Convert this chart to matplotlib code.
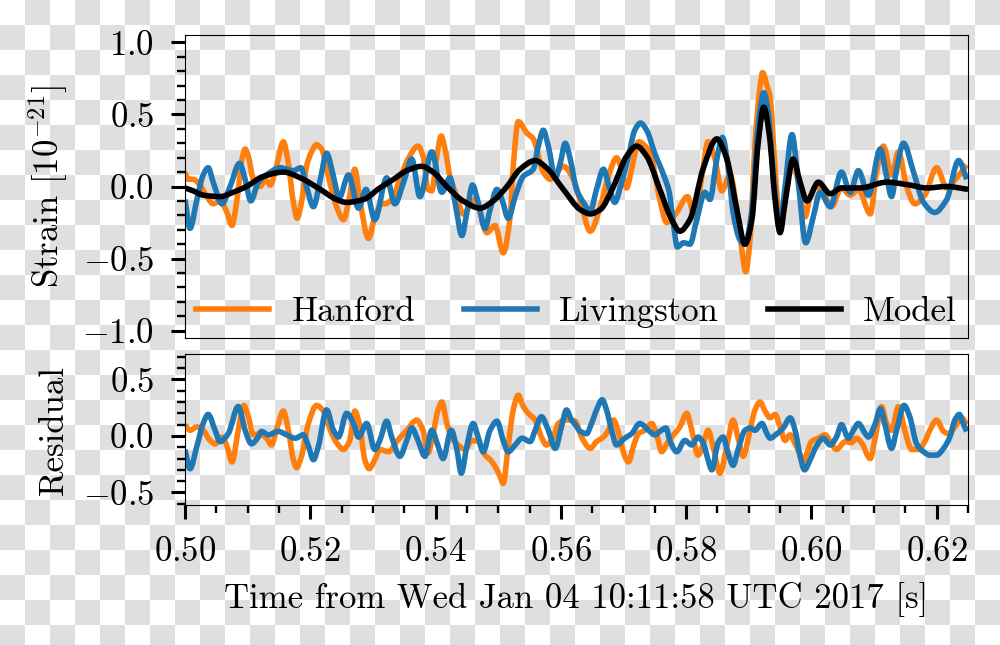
import numpy as np
import matplotlib
matplotlib.use("Agg")
import matplotlib.pyplot as plt
from matplotlib.ticker import MultipleLocator
from matplotlib.path import Path
from matplotlib.patches import PathPatch
from matplotlib.lines import Line2D

plt.rcParams["font.family"] = "serif"
plt.rcParams["font.serif"] = ["cmr10"]
plt.rcParams["mathtext.fontset"] = "cm"
plt.rcParams["axes.formatter.use_mathtext"] = True

# ---------------- data ----------------
t_hanford = [.5000, .5005, .5013, .5024, .5035, .5045, .5056, .5067, .5075, .5083, .5091, .5096, .5101, .5109,
             .5120, .5128, .5136, .5146, .5157, .5165, .5173, .5179, .5186, .5194, .5202, .5210, .5218, .5231,
             .5242, .5253, .5261, .5271, .5279, .5293, .5303, .5314, .5319, .5330, .5343, .5356, .5372, .5380,
             .5388, .5394, .5402, .5409, .5415, .5423, .5434, .5444, .5463, .5482, .5495, .5508, .5519, .5524,
             .5532, .5546, .5556, .5572, .5583, .5604, .5620, .5631, .5647, .5663, .5678, .5689, .5697, .5705,
             .5713, .5724, .5737, .5745, .5758, .5769, .5785, .5802, .5814, .5825, .5835, .5846, .5857, .5870,
             .5881, .5889, .5895, .5902, .5910, .5918, .5922, .5929, .5934, .5942, .5950, .5958, .5969, .5979,
             .5990, .5998, .6008, .6019, .6032, .6048, .6062, .6075, .6094, .6104, .6115, .6128, .6139, .6152,
             .6165, .6181, .6200, .6216, .6232, .6248]
strain_hanford = [0.10, 0.05, 0.05, 0.01, -0.07, -0.12, -0.10, -0.18, -0.27, -0.09, 0.19, 0.26, 0.21, 0.05,
                  0.00, 0.05, 0.01, 0.14, 0.31, 0.16, -0.11, -0.22, -0.11, 0.14, 0.24, 0.29, 0.26, 0.03,
                  -0.14, -0.23, -0.11, 0.12, -0.09, -0.36, -0.21, -0.12, -0.12, -0.09, 0.05, 0.19, 0.28, 0.21,
                  -0.02, -0.03, 0.21, 0.35, 0.26, 0.07, -0.07, -0.19, -0.09, -0.32, -0.27, -0.46, -0.21, 0.14,
                  0.45, 0.37, 0.33, 0.10, 0.05, 0.14, 0.05, -0.10, -0.31, -0.14, 0.10, 0.20, 0.12, -0.01,
                  0.12, 0.31, 0.27, 0.19, -0.09, -0.25, -0.18, -0.07, -0.21, 0.07, 0.31, 0.19, -0.03, 0.08,
                  -0.16, -0.44, -0.59, -0.37, 0.30, 0.69, 0.79, 0.70, 0.62, 0.12, -0.27, -0.09, 0.19, 0.03,
                  -0.21, -0.07, 0.00, -0.04, -0.14, -0.01, -0.06, -0.02, -0.19, 0.10, 0.28, 0.08, 0.24, 0.00,
                  -0.12, -0.06, 0.13, -0.01, 0.06, 0.15]

t_livingston = [.5000, .5008, .5019, .5029, .5037, .5045, .5059, .5072, .5087, .5096, .5105, .5117, .5130, .5152,
                .5173, .5185, .5194, .5205, .5216, .5226, .5237, .5246, .5261, .5277, .5289, .5303, .5322, .5335,
                .5349, .5362, .5375, .5394, .5410, .5423, .5433, .5442, .5450, .5459, .5468, .5479, .5487, .5498,
                .5506, .5516, .5527, .5540, .5556, .5564, .5572, .5580, .5591, .5599, .5607, .5615, .5625, .5636,
                .5647, .5657, .5668, .5677, .5686, .5697, .5708, .5718, .5727, .5737, .5750, .5764, .5773, .5780,
                .5786, .5796, .5806, .5817, .5830, .5838, .5849, .5858, .5867, .5875, .5886, .5894, .5905, .5915,
                .5924, .5931, .5939, .5949, .5958, .5969, .5979, .5991, .6003, .6014, .6030, .6048, .6062, .6075,
                .6091, .6110, .6120, .6128, .6136, .6147, .6163, .6179, .6197, .6216, .6235, .6248]
strain_livingston = [-0.09, -0.29, -0.09, 0.08, 0.13, 0.03, -0.12, 0.00, 0.16, 0.05, -0.10, 0.03, 0.08, 0.13,
                     0.11, 0.13, 0.00, -0.14, 0.05, 0.23, 0.07, -0.08, 0.08, -0.15, -0.02, -0.23, 0.06, -0.12,
                     0.03, 0.19, -0.07, 0.24, -0.04, 0.06, -0.16, -0.34, -0.18, 0.01, -0.11, -0.29, -0.16, -0.02,
                     -0.09, -0.22, -0.07, 0.07, 0.12, 0.28, 0.39, 0.28, 0.06, 0.16, 0.30, 0.19, -0.02, -0.11,
                     -0.17, -0.02, 0.12, 0.00, -0.11, 0.03, 0.21, 0.39, 0.44, 0.39, 0.23, 0.08, -0.04, -0.27,
                     -0.42, -0.39, -0.40, -0.23, -0.04, -0.09, 0.19, 0.34, 0.14, -0.18, -0.37, -0.40, -0.16, 0.42,
                     0.65, 0.51, 0.10, -0.28, 0.00, 0.36, 0.03, -0.39, -0.21, -0.04, -0.14, 0.10, -0.04, 0.11,
                     -0.06, 0.26, 0.07, -0.07, 0.12, 0.30, 0.10, -0.11, -0.18, -0.09, 0.18, 0.05]

t_model = [.5000, .5013, .5029, .5056, .5077, .5098, .5125, .5157, .5184, .5216, .5242, .5258, .5285, .5311,
           .5333, .5354, .5378, .5396, .5418, .5444, .5471, .5492, .5514, .5535, .5559, .5577, .5604, .5631,
           .5647, .5663, .5684, .5705, .5721, .5737, .5758, .5777, .5790, .5806, .5827, .5849, .5865, .5881,
           .5894, .5905, .5915, .5924, .5933, .5942, .5950, .5958, .5971, .5982, .5993, .6011, .6030, .6048,
           .6078, .6120, .6157, .6184, .6216, .6250]
strain_model = [-0.01, -0.03, -0.06, -0.07, -0.04, 0.00, 0.07, 0.10, 0.06, -0.02, -0.09, -0.11, -0.09, -0.01,
                0.05, 0.11, 0.14, 0.10, 0.00, -0.10, -0.15, -0.10, 0.00, 0.12, 0.18, 0.13, -0.02, -0.16,
                -0.19, -0.16, 0.00, 0.21, 0.28, 0.21, -0.02, -0.23, -0.31, -0.23, 0.12, 0.33, 0.19, -0.16,
                -0.40, -0.23, 0.30, 0.55, 0.35, -0.09, -0.32, -0.11, 0.19, 0.03, -0.10, 0.03, -0.05, -0.01,
                -0.01, 0.03, 0.01, -0.01, 0.00, -0.02]

t_res_hanford = [.5000, .5008, .5019, .5029, .5040, .5048, .5059, .5067, .5075, .5085, .5094, .5101, .5109, .5120,
                 .5130, .5138, .5146, .5157, .5165, .5173, .5178, .5186, .5197, .5210, .5221, .5232, .5242, .5253,
                 .5263, .5271, .5279, .5287, .5294, .5303, .5311, .5325, .5338, .5354, .5370, .5380, .5388, .5396,
                 .5404, .5410, .5418, .5426, .5436, .5447, .5458, .5468, .5479, .5487, .5495, .5503, .5508, .5516,
                 .5524, .5532, .5540, .5548, .5559, .5569, .5577, .5588, .5596, .5607, .5617, .5623, .5633, .5647,
                 .5657, .5668, .5676, .5684, .5694, .5702, .5708, .5716, .5724, .5734, .5745, .5753, .5761, .5769,
                 .5780, .5790, .5801, .5809, .5819, .5830, .5835, .5843, .5854, .5865, .5875, .5883, .5891, .5902,
                 .5910, .5918, .5926, .5934, .5942, .5950, .5958, .5966, .5974, .5982, .5986, .5993, .6000, .6011,
                 .6022, .6032, .6040, .6054, .6064, .6072, .6080, .6094, .6102, .6112, .6120, .6128, .6139, .6149,
                 .6160, .6171, .6181, .6189, .6200, .6211, .6219, .6229, .6240, .6248]
res_hanford = [0.10, 0.05, 0.08, 0.05, -0.04, -0.07, -0.01, -0.09, -0.23, 0.05, 0.27, 0.17, 0.01, 0.02,
               -0.02, -0.08, 0.05, 0.22, 0.05, -0.21, -0.28, -0.18, 0.11, 0.27, 0.22, 0.05, -0.06, -0.12,
               -0.04, 0.22, 0.09, -0.21, -0.29, -0.21, -0.12, -0.14, -0.05, 0.05, 0.14, 0.05, -0.15, 0.02,
               0.23, 0.30, 0.11, -0.02, -0.08, -0.12, -0.04, -0.05, -0.17, -0.21, -0.27, -0.36, -0.42, -0.09,
               0.23, 0.36, 0.26, 0.20, 0.14, -0.01, -0.08, -0.01, 0.11, 0.14, 0.14, 0.13, -0.01, -0.11,
               -0.05, -0.01, 0.05, 0.14, -0.01, -0.18, -0.23, -0.09, 0.02, 0.05, 0.11, 0.01, -0.14, -0.07,
               0.01, 0.08, 0.20, 0.05, -0.17, -0.02, 0.05, -0.09, -0.33, -0.09, 0.14, -0.02, -0.18, 0.05,
               0.23, 0.30, 0.22, 0.16, 0.19, 0.08, -0.04, 0.01, -0.07, -0.17, -0.24, -0.15, -0.05, -0.02,
               0.01, -0.07, -0.12, -0.05, -0.06, -0.02, -0.06, -0.20, -0.01, 0.26, 0.11, 0.05, 0.26, 0.05,
               -0.12, -0.12, -0.05, 0.05, 0.14, 0.04, 0.02, 0.08, 0.16, 0.10]

t_res_livingston = [.5000, .5008, .5019, .5029, .5037, .5048, .5056, .5069, .5085, .5096, .5106, .5117, .5122, .5133,
                    .5149, .5162, .5176, .5189, .5197, .5205, .5213, .5226, .5237, .5245, .5258, .5269, .5277, .5290,
                    .5303, .5311, .5322, .5330, .5343, .5354, .5362, .5372, .5383, .5394, .5404, .5412, .5425, .5434,
                    .5441, .5450, .5460, .5468, .5476, .5487, .5498, .5508, .5516, .5527, .5538, .5551, .5559, .5569,
                    .5580, .5591, .5601, .5609, .5617, .5623, .5631, .5641, .5649, .5657, .5666, .5673, .5681, .5689,
                    .5702, .5713, .5726, .5740, .5750, .5758, .5768, .5774, .5785, .5798, .5809, .5819, .5827, .5835,
                    .5841, .5851, .5859, .5867, .5875, .5883, .5894, .5902, .5910, .5921, .5929, .5934, .5945, .5955,
                    .5966, .5974, .5982, .5989, .5998, .6008, .6019, .6030, .6040, .6048, .6059, .6067, .6075, .6086,
                    .6091, .6102, .6110, .6117, .6128, .6136, .6148, .6157, .6168, .6179, .6189, .6200, .6211, .6221,
                    .6229, .6236, .6243, .6248]
res_livingston = [-0.12, -0.29, -0.09, 0.11, 0.19, 0.05, -0.05, 0.02, 0.26, 0.05, -0.07, -0.01, 0.04, 0.01,
                  0.04, 0.01, -0.02, 0.01, -0.09, -0.21, -0.09, 0.23, 0.05, -0.01, 0.20, 0.11, -0.01, 0.11,
                  -0.12, -0.04, 0.13, -0.01, -0.18, -0.04, 0.07, -0.04, -0.18, 0.05, -0.09, -0.20, 0.05, -0.12,
                  -0.33, -0.09, 0.11, -0.01, -0.14, 0.05, 0.13, -0.04, -0.14, -0.08, -0.02, -0.05, 0.05, 0.17,
                  0.05, -0.11, 0.08, 0.23, 0.14, 0.10, 0.04, 0.02, 0.11, 0.23, 0.32, 0.23, 0.05, -0.08,
                  -0.02, 0.02, 0.11, 0.05, 0.01, 0.04, 0.07, -0.04, -0.14, -0.04, -0.08, -0.01, -0.06, -0.21,
                  -0.30, -0.06, -0.01, -0.15, -0.26, -0.12, 0.05, 0.07, 0.05, 0.11, 0.02, -0.02, 0.02, 0.07,
                  0.16, 0.05, -0.18, -0.30, -0.21, -0.09, -0.02, -0.08, -0.01, 0.10, -0.02, 0.05, 0.11, 0.02,
                  -0.01, 0.11, 0.24, 0.11, -0.11, 0.05, 0.27, 0.17, -0.07, -0.14, -0.17, -0.17, -0.11, -0.01,
                  0.14, 0.19, 0.10, 0.04]

legend_labels = ["Hanford", "Livingston", "Model"]
x_label = "Time from Wed Jan 04 10:11:58 UTC 2017 [s]"


def smooth_path(x, y):
    """Piecewise-cubic (monotone Hermite) Bezier path through the read points."""
    x = np.asarray(x, float)
    y = np.asarray(y, float)
    h = np.diff(x)
    d = np.diff(y) / h
    m = np.zeros_like(y)
    m[0], m[-1] = d[0], d[-1]
    for i in range(1, len(y) - 1):
        if d[i - 1] * d[i] <= 0:
            m[i] = 0.0
        else:
            w1 = 2 * h[i] + h[i - 1]
            w2 = h[i] + 2 * h[i - 1]
            m[i] = (w1 + w2) / (w1 / d[i - 1] + w2 / d[i])
    verts = [(x[0], y[0])]
    codes = [Path.MOVETO]
    for i in range(len(x) - 1):
        verts += [(x[i] + h[i] / 3, y[i] + m[i] * h[i] / 3),
                  (x[i + 1] - h[i] / 3, y[i + 1] - m[i + 1] * h[i] / 3),
                  (x[i + 1], y[i + 1])]
        codes += [Path.CURVE4] * 3
    return Path(verts, codes)


def draw_curve(ax, x, y, color, lw):
    ax.add_patch(PathPatch(smooth_path(x, y), fill=False, edgecolor=color, lw=lw,
                           joinstyle="round", capstyle="butt"))


# ---------------- figure ----------------
W, H = 1000, 645
fig = plt.figure(figsize=(W / 100, H / 100), dpi=100)
fig.patch.set_alpha(0)

# transparency checkerboard background (as in the reference rendering)
yy, xx = np.mgrid[0:H, 0:W]
odd = ((xx // 25 + yy // 25) % 2 == 1)
bg = np.ones((H, W, 3))
bg[odd] = 0.878
fig.figimage(bg, xo=0, yo=0, origin="upper", zorder=-1)

ax1 = fig.add_axes([0.185, 0.476, 0.783, 0.4697])
ax2 = fig.add_axes([0.185, 0.2163, 0.783, 0.2341], sharex=ax1)

lw = 4.0
c_h, c_l = "#ff7f0e", "#1f77b4"
draw_curve(ax1, t_hanford, strain_hanford, c_h, lw)
draw_curve(ax1, t_livingston, strain_livingston, c_l, lw)
draw_curve(ax1, t_model, strain_model, "k", lw)

draw_curve(ax2, t_res_hanford, res_hanford, c_h, lw)
draw_curve(ax2, t_res_livingston, res_livingston, c_l, lw)

fs = 25
for ax in (ax1, ax2):
    ax.set_facecolor("none")
    for s in ax.spines.values():
        s.set_linewidth(0.8)
    ax.tick_params(which="major", direction="out", length=10, width=2.2, labelsize=fs, pad=12)
    ax.tick_params(which="minor", direction="out", length=6, width=1.7)
    ax.yaxis.set_minor_locator(MultipleLocator(0.1))

ax1.set_xlim(0.5, 0.625)
ax1.set_ylim(-1.05, 1.05)
ax1.yaxis.set_major_locator(MultipleLocator(0.5))
ax1.tick_params(axis="x", which="both", bottom=False, labelbottom=False)

ax2.set_ylim(-0.615, 0.72)
ax2.yaxis.set_major_locator(MultipleLocator(0.5))
ax2.xaxis.set_major_locator(MultipleLocator(0.02))
ax2.xaxis.set_minor_locator(MultipleLocator(0.005))

ax1.set_ylabel("Strain [$10^{-21}$]", fontsize=fs)
ax2.set_ylabel("Residual", fontsize=fs)
ax2.set_xlabel(x_label, fontsize=fs, labelpad=10)
ax1.yaxis.set_label_coords(-0.147, 0.5)
ax2.yaxis.set_label_coords(-0.147, 0.5)

handles = [Line2D([], [], color=c, lw=lw) for c in (c_h, c_l, "k")]
ax1.legend(handles, legend_labels, loc="lower center", bbox_to_anchor=(0.5, -0.012), ncol=3,
           frameon=False, fontsize=fs, handlelength=2.1, handletextpad=0.65, columnspacing=1.4,
           borderaxespad=0.0)

fig.savefig("out.png", dpi=100)
